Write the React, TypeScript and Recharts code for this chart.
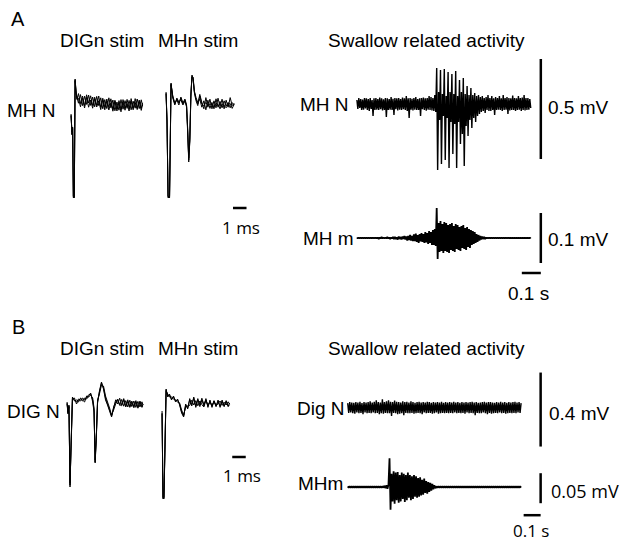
import { Line, LineChart, ReferenceLine, XAxis, YAxis } from "recharts";

// swallow-related recordings, one sample every 5 ms (A) or 6 ms (B), values in µV
const SWALLOW_DT_A = 5;
const SWALLOW_DT_B = 6;

const mhNerveA = [
  20, -25, 30, -20, 25, -30, 22, -28, 30, -22,
  28, -30, 25, -35, 30, -25, 20, -60, 28, -30,
  30, -28, 25, -30, 32, -26, 28, -32, 24, -30,
  30, -65, 28, -30, 25, -28, 35, -30, 26, -55,
  30, -26, 28, -32, 30, -28, 25, -30, 32, -26,
  28, -30, 40, -35, 28, -70, 30, -28, 26, -32,
  30, -28, 35, -30, 25, -30, 28, -60, 30, -26,
  32, -30, 28, -34, 30, -28, 40, -30, 35, -32,
  30, -35, 45, -40, 180, -330, 60, -80, 170, -300,
  50, -60, 175, -280, 40, -70, 160, -320, 60, -90,
  150, -250, 50, -100, 165, -320, 40, -90, 120, -200,
  60, -150, 130, -310, 50, -110, 90, -160, 45, -80,
  80, -120, 45, -70, 55, -90, 40, -60, 45, -50,
  35, -40, 40, -35, 30, -45, 35, -30, 45, -35,
  30, -35, 40, -30, 28, -55, 35, -30, 30, -28,
  40, -30, 28, -35, 45, -30, 30, -28, 35, -50,
  30, -32, 28, -30, 42, -30, 30, -35, 28, -30,
  40, -28, 30, -35, 32, -30, 45, -32, 30, -30,
  30, -28, 25, -20,
];

const mhMuscleA = [
  1, -1, 1, -1, 1, -1, 1, -1, 1, -1,
  1, -1, 1, -1, 1, -1, 1, -1, 1, -1,
  1, -1, 1, -2, 1, -1, 2, -1, 1, -1,
  1, -1, 2, -1, 1, -2, 1, -1, 2, -2,
  2, -2, 1, -3, 3, -2, 2, -3, 3, -2,
  4, -3, 3, -5, 4, -4, 6, -5, 4, -6,
  7, -6, 9, -8, 6, -10, 8, -7, 10, -8,
  8, -10, 12, -9, 10, -12, 14, -10, 12, -14,
  16, -14, 18, -16, 60, -42, 30, -28, 34, -26,
  28, -30, 32, -26, 30, -28, 26, -30, 28, -24,
  30, -26, 24, -28, 28, -22, 26, -24, 22, -26,
  24, -20, 26, -22, 20, -24, 22, -18, 18, -20,
  16, -14, 14, -12, 12, -10, 8, -8, 6, -5,
  4, -3, 3, -2, 2, -2, 1, -1, 1, -1,
  1, -1, 1, -1, 1, -1, 1, -1, 1, -1,
  1, -1, 1, -1, 1, -1, 1, -1, 1, -1,
  1, -1, 1, -1, 1, -1, 1, -1, 1, -1,
  1, -1, 1, -1, 1, -1, 1, -1, 1, -1,
  1, -1, 1, -1,
];

const digNerveB = [
  25, -28, 30, -25, 28, -30, 26, -32, 30, -26,
  28, -30, 32, -28, 25, -35, 30, -26, 28, -30,
  30, -28, 35, -30, 28, -26, 32, -30, 40, -28,
  30, -35, 28, -30, 45, -32, 30, -28, 35, -30,
  40, -30, 32, -45, 30, -28, 38, -30, 32, -35,
  30, -32, 28, -30, 35, -40, 30, -28, 32, -30,
  28, -30, 35, -28, 30, -32, 26, -30, 30, -28,
  32, -30, 28, -35, 30, -26, 28, -30, 32, -28,
  30, -28, 26, -32, 30, -30, 28, -26, 30, -32,
  28, -30, 32, -28, 26, -30, 30, -28, 28, -30,
  30, -28, 28, -30, 32, -26, 28, -30, 30, -28,
  26, -30, 30, -28, 28, -32, 30, -26, 28, -30,
  30, -28, 32, -30, 28, -40, 30, -28, 26, -30,
  28, -30, 30, -26, 32, -30, 28, -35, 30, -28,
  30, -32, 28, -30, 26, -28, 30, -30, 28, -26,
  32, -30, 28, -28, 30, -32, 26, -30, 30, -28,
  28, -30, 30, -28, 32, -30, 28, -26, 30, -28,
  25,
];

const mhMuscleB = [
  1, -1, 1, -1, 1, -1, 1, -1, 1, -1,
  1, -1, 1, -1, 1, -1, 1, -1, 1, -1,
  1, -1, 1, -1, 1, -1, 1, -1, 1, -1,
  1, -1, 1, -1, 1, -1, 2, -2, 3, -3,
  4, 48, -38, 22, -24, 26, -28, 24, -22, 25,
  -26, 20, -24, 24, -20, 22, -25, 20, -22, 24,
  -18, 20, -22, 18, -20, 20, -16, 18, -18, 15,
  -16, 16, -14, 12, -13, 14, -10, 10, -11, 8,
  -8, 7, -6, 5, -4, 3, -2, 1, -1, 1,
  -1, 1, -1, 1, -1, 1, -1, 1, -1, 1,
  -1, 1, -1, 1, -1, 1, -1, 1, -1, 1,
  -1, 1, -1, 1, -1, 1, -1, 1, -1, 1,
  -1, 1, -1, 1, -1, 1, -1, 1, -1, 1,
  -1, 1, -1, 1, -1, 1, -1, 1, -1, 1,
  -1, 1, -1, 1, -1, 1, -1, 1, -1, 1,
  -1, 1, -1, 1, -1, 1, -1, 1, -1, 1,
  -1, 1, -1, 1, -1, 1, -1, 1, -1, 1,
  -1,
];

// evoked responses: time in ms, three overlaid sweeps in µV
const digStimTimeA = [
  0, 0.07, 0.12, 0.17, 0.24, 0.3, 0.37, 0.45, 0.55, 0.7, 0.85, 1.0, 1.15, 1.3,
  1.45, 1.6, 1.75, 1.9, 2.05, 2.2, 2.35, 2.5, 2.65, 2.8, 2.95, 3.1, 3.25, 3.4,
  3.55, 3.7, 3.85, 4.0, 4.15, 4.3, 4.45, 4.6, 4.75, 4.9, 5.05, 5.2, 5.3,
];
const digStimA = [
  [-65, -160, -130, -475, -475, 115, 50, 15, 42, -8, 30, -19, 36, -5, 31, -18, 24, -17, 30, -27, 11, -39, 15, -27, 16, -38, 4, -45, 7, -36, -1, -41, 13, -32, 4, -39, 17, -30, 10, -32, -4],
  [-70, -150, -135, -480, -470, 105, 45, 20, -6, 37, -18, 29, -12, 35, -17, 25, -24, 28, -18, 21, -34, 12, -33, 21, -29, 10, -44, 0, -41, 12, -36, 7, -32, 8, -39, 4, -31, 15, -33, 11, -20],
  [-60, -165, -125, -470, -480, 110, 55, 10, 18, -24, 19, -30, 23, -26, 10, -31, 16, -25, 6, -38, 19, -26, 4, -40, -5, -46, 9, -35, -4, -49, 12, -30, -8, -45, 17, -31, -2, -38, 2, -42, -12],
];

const mhStimTimeA = [
  0, 0.07, 0.15, 0.26, 0.37, 0.5, 0.65, 0.8, 0.95, 1.1, 1.25, 1.4, 1.52, 1.6,
  1.68, 1.76, 1.84, 1.92, 2.0, 2.1, 2.22, 2.35, 2.5, 2.65, 2.8, 2.95, 3.1, 3.25,
  3.4, 3.55, 3.7, 3.85, 4.0, 4.15, 4.3, 4.45, 4.6, 4.75, 4.9, 5.05,
];
const mhStimA = [
  [45, -90, -475, -475, 90, 25, -10, 15, -5, 20, -10, 10, -20, -140, -300, -190, 35, 135, 120, 50, 14, -10, 38, -2, -34, 22, -26, 14, -34, 6, -29, 19, -23, 14, -34, 9, -26, 22, -18, -7],
  [40, -100, -470, -480, 85, 30, -5, 10, -15, 25, -5, 15, -15, -130, -290, -200, 25, 130, 125, 55, 22, -2, 14, -26, 6, -39, 9, -32, -2, -34, 16, -26, 3, -29, 6, -20, -2, -29, -4, -13],
  [50, -85, -480, -470, 95, 20, -15, 20, 0, 10, -15, 5, -25, -150, -280, -180, 40, 125, 115, 45, 6, -18, 30, -10, -18, -2, -18, -10, -13, -23, -7, -13, -34, -10, -16, -29, -13, -7, -32, -10],
];

const digStimTimeB = [
  0, 0.07, 0.14, 0.22, 0.3, 0.4, 0.55, 0.7, 0.85, 1.0, 1.15, 1.3, 1.45, 1.6,
  1.75, 1.9, 2.0, 2.08, 2.16, 2.26, 2.4, 2.55, 2.7, 2.85, 3.0, 3.15, 3.3, 3.45,
  3.6, 3.75, 3.9, 4.05, 4.2, 4.35, 4.5, 4.65, 4.8, 4.95, 5.1, 5.25, 5.4, 5.55, 5.63,
];
const digStimB = [
  [0, -50, -15, -410, -210, 25, 15, 5, 20, 10, 25, 15, 30, 40, 45, 15, -35, -295, -185, 5, 55, 100, 75, 25, -5, -35, -65, -25, 16, -5, 24, -10, 16, -16, 8, -18, 10, -24, 6, -22, 4, -22, -5],
  [5, -45, -20, -400, -220, 20, 25, -5, 15, 20, 10, 25, 20, 35, 50, 5, -45, -285, -175, 15, 45, 90, 85, 35, 5, -25, -60, -35, -5, 14, -12, 18, -16, 12, -20, 14, -18, 10, -22, 8, -20, 6, -10],
  [-5, -55, -10, -420, -200, 30, 10, 15, 5, 25, 15, 5, 35, 30, 40, 25, -25, -300, -190, 0, 60, 105, 70, 15, -10, -40, -70, -20, 5, 20, -8, -14, 22, -20, 16, -22, 4, -16, 12, -26, 10, -16, -15],
];

const mhStimTimeB = [
  0, 0.07, 0.14, 0.22, 0.3, 0.42, 0.55, 0.7, 0.85, 1.0, 1.15, 1.3, 1.45, 1.6,
  1.75, 1.9, 2.05, 2.2, 2.35, 2.5, 2.65, 2.8, 2.95, 3.1, 3.25, 3.4, 3.55, 3.7,
  3.85, 4.0, 4.15, 4.3, 4.45, 4.6, 4.75, 4.9, 5.0,
];
const mhStimB = [
  [-50, -475, -475, -210, 65, 35, 40, 20, 30, 10, 15, -5, -45, -65, -10, -25, 16, -8, 24, -16, 16, -8, 24, -8, 16, -16, 8, -16, 8, -16, 8, -16, 8, -16, 8, -16, 0],
  [-40, -470, -480, -220, 60, 45, 30, 30, 20, 15, 5, 0, -35, -60, -20, -15, -12, 14, -10, 12, -14, 10, -8, -20, 14, -12, 6, -14, 10, -12, -4, 10, -12, 4, -10, 6, -5],
  [-55, -480, -470, -200, 70, 30, 45, 15, 35, 5, 20, -10, -50, -70, -5, -30, 22, -15, 30, -22, 22, -18, 15, -15, 22, -22, 15, -22, 12, -18, 15, -22, 15, -18, 12, -18, -8],
];

type ScaleBar = { x1: number; y1: number; x2: number; y2: number };

interface TraceProps {
  time: number[];
  sweeps: number[][];
  ox: number; // page x of t = 0
  oy: number; // page y of v = 0
  pxX: number;
  pxY: number;
  xDomain: [number, number];
  yDomain: [number, number];
  strokeWidth?: number;
  bars?: ScaleBar[];
}

const Trace = ({ time, sweeps, ox, oy, pxX, pxY, xDomain, yDomain, strokeWidth = 1, bars = [] }: TraceProps) => {
  const data = time.map((t, i) => {
    const row: Record<string, number> = { t };
    sweeps.forEach((s, k) => {
      row[`s${k}`] = s[i];
    });
    return row;
  });
  const width = (xDomain[1] - xDomain[0]) * pxX;
  const height = (yDomain[1] - yDomain[0]) * pxY;

  return (
    <div style={{ position: "absolute", left: ox + xDomain[0] * pxX, top: oy - yDomain[1] * pxY }}>
      <LineChart width={width} height={height} data={data} margin={{ top: 0, right: 0, bottom: 0, left: 0 }}>
        <XAxis type="number" dataKey="t" domain={xDomain} hide />
        <YAxis type="number" domain={yDomain} hide />
        {sweeps.map((_, k) => (
          <Line
            key={k}
            type="linear"
            dataKey={`s${k}`}
            stroke="#000"
            strokeWidth={strokeWidth}
            strokeLinejoin="bevel"
            dot={false}
            isAnimationActive={false}
          />
        ))}
        {bars.map((b, k) => (
          <ReferenceLine
            key={`bar${k}`}
            segment={[{ x: b.x1, y: b.y1 }, { x: b.x2, y: b.y2 }]}
            stroke="#000"
            strokeWidth={2.5}
            ifOverflow="visible"
          />
        ))}
      </LineChart>
    </div>
  );
};

const ARIAL = "'Liberation Sans', Arial, sans-serif";
const ROUND = "'Open Sans', sans-serif";

export default function App() {
  const tA = mhNerveA.map((_, i) => i * SWALLOW_DT_A);
  const tB = digNerveB.map((_, i) => i * SWALLOW_DT_B);

  return (
    <div style={{ position: "absolute", left: 0, top: 0, width: 625, height: 544, background: "#fff" }}>
      <svg width={625} height={544} style={{ position: "absolute", left: 0, top: 0 }} fontFamily={ARIAL} fontSize={19} fill="#000">
        <text x={11} y={26} fontSize={20}>A</text>
        <text x={60} y={47}>DIGn stim</text>
        <text x={158} y={47}>MHn stim</text>
        <text x={328} y={47}>Swallow related activity</text>
        <text x={7} y={117}>MH N</text>
        <text x={300} y={111}>MH N</text>
        <text x={548} y={114}>0.5 mV</text>
        <text x={222} y={234} fontFamily={ROUND} fontSize={17}>1 ms</text>
        <text x={303} y={245}>MH m</text>
        <text x={548} y={246}>0.1 mV</text>
        <text x={508} y={300}>0.1 s</text>

        <text x={12} y={334} fontSize={20}>B</text>
        <text x={60} y={355}>DIGn stim</text>
        <text x={158} y={355}>MHn stim</text>
        <text x={328} y={355}>Swallow related activity</text>
        <text x={7} y={418}>DIG N</text>
        <text x={223} y={482} fontFamily={ROUND} fontSize={17}>1 ms</text>
        <text x={297} y={415}>Dig N</text>
        <text x={549} y={420}>0.4 mV</text>
        <text x={298} y={490}>MHm</text>
        <text x={551} y={498} fontFamily={ROUND} fontSize={18}>0.05 mV</text>
        <text x={513} y={537} fontFamily={ROUND} fontSize={17}>0.1 s</text>
      </svg>

      {/* A: evoked responses */}
      <Trace time={digStimTimeA} sweeps={digStimA} ox={71} oy={102} pxX={13.5} pxY={0.2} xDomain={[-0.3, 5.6]} yDomain={[-520, 160]} />
      <Trace
        time={mhStimTimeA}
        sweeps={mhStimA}
        ox={166}
        oy={102}
        pxX={13.5}
        pxY={0.2}
        xDomain={[-0.3, 6.2]}
        yDomain={[-560, 160]}
        bars={[{ x1: 4.96, y1: -530, x2: 5.96, y2: -530 }]}
      />

      {/* A: swallow */}
      <Trace
        time={tA}
        sweeps={[mhNerveA]}
        ox={357}
        oy={104}
        pxX={0.19}
        pxY={0.2}
        xDomain={[-10, 985]}
        yDomain={[-360, 260]}
        strokeWidth={1.4}
        bars={[{ x1: 968, y1: 225, x2: 968, y2: -275 }]}
      />
      <Trace
        time={tA}
        sweeps={[mhMuscleA]}
        ox={357}
        oy={238}
        pxX={0.19}
        pxY={0.5}
        xDomain={[-10, 985]}
        yDomain={[-80, 70]}
        strokeWidth={1.8}
        bars={[
          { x1: 968, y1: 50, x2: 968, y2: -50 },
          { x1: 868, y1: -70, x2: 968, y2: -70 },
        ]}
      />

      {/* B: evoked responses */}
      <Trace time={digStimTimeB} sweeps={digStimB} ox={67} oy={403} pxX={13.5} pxY={0.2} xDomain={[-0.3, 5.9]} yDomain={[-450, 130]} />
      <Trace
        time={mhStimTimeB}
        sweeps={mhStimB}
        ox={162.5}
        oy={403}
        pxX={13.5}
        pxY={0.2}
        xDomain={[-0.3, 6.4]}
        yDomain={[-500, 100]}
        bars={[{ x1: 5.2, y1: -270, x2: 6.2, y2: -270 }]}
      />

      {/* B: swallow */}
      <Trace
        time={tB}
        sweeps={[digNerveB]}
        ox={348}
        oy={408}
        pxX={0.17}
        pxY={0.185}
        xDomain={[-10, 1150]}
        yDomain={[-240, 220]}
        strokeWidth={1.4}
        bars={[{ x1: 1135, y1: 190, x2: 1135, y2: -210 }]}
      />
      <Trace
        time={tB}
        sweeps={[mhMuscleB]}
        ox={348}
        oy={487}
        pxX={0.17}
        pxY={0.6}
        xDomain={[-10, 1150]}
        yDomain={[-60, 60]}
        strokeWidth={1.8}
        bars={[
          { x1: 1135, y1: 23, x2: 1135, y2: -27 },
          { x1: 1035, y1: -47, x2: 1135, y2: -47 },
        ]}
      />
    </div>
  );
}
